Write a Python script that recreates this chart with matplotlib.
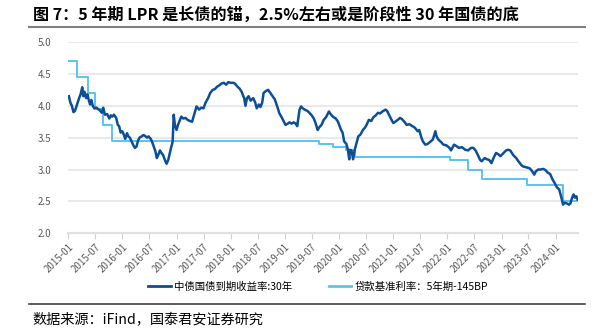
import matplotlib
matplotlib.use("Agg")
import matplotlib.pyplot as plt
import matplotlib.dates as mdates
from matplotlib.lines import Line2D
import pandas as pd

plt.rcParams['font.family'] = ['Noto Sans CJK SC', 'DejaVu Sans']

# 30Y CGB yield (approximate readings)
yield_dates = [
"2015-01-05","2015-01-15","2015-01-25","2015-02-05","2015-02-15","2015-03-01","2015-03-15","2015-03-25",
"2015-04-05","2015-04-12","2015-04-20","2015-05-01","2015-05-10","2015-05-20","2015-05-28","2015-06-05",
"2015-06-15","2015-06-25","2015-07-10","2015-07-20","2015-08-01","2015-08-15","2015-08-25","2015-09-05",
"2015-09-20","2015-10-05","2015-10-15","2015-10-25","2015-11-05","2015-11-20","2015-12-01","2015-12-10",
"2015-12-20","2015-12-31","2016-01-10","2016-01-20","2016-02-01","2016-02-10","2016-02-20","2016-03-05",
"2016-03-15","2016-03-25","2016-04-05","2016-04-15","2016-04-25","2016-05-10","2016-05-20","2016-06-01",
"2016-06-15","2016-06-25","2016-07-10","2016-07-20","2016-08-01","2016-08-10","2016-08-20","2016-08-30",
"2016-09-10","2016-09-20","2016-10-01","2016-10-15","2016-10-25","2016-11-05","2016-11-15","2016-11-25",
"2016-12-05","2016-12-12","2016-12-20","2016-12-31","2017-01-10","2017-01-20","2017-02-01","2017-02-15",
"2017-03-01","2017-03-15","2017-04-01","2017-04-15","2017-05-01","2017-05-15","2017-06-01","2017-06-15",
"2017-07-01","2017-07-15","2017-08-01","2017-08-15","2017-09-01","2017-09-15","2017-10-01","2017-10-15",
"2017-11-01","2017-11-15","2017-12-01","2017-12-15","2018-01-01","2018-01-20","2018-02-01","2018-02-15",
"2018-03-01","2018-03-15","2018-04-01","2018-04-10","2018-04-20","2018-05-01","2018-05-15","2018-06-01",
"2018-06-15","2018-06-25","2018-07-10","2018-07-20","2018-08-01","2018-08-10","2018-08-25","2018-09-10",
"2018-09-25","2018-10-10","2018-10-25","2018-11-10","2018-11-25","2018-12-10","2018-12-25","2019-01-05",
"2019-01-20","2019-02-01","2019-02-15","2019-03-01","2019-03-15","2019-03-25","2019-04-10","2019-04-20",
"2019-05-01","2019-05-15","2019-06-01","2019-06-15","2019-07-01","2019-07-15","2019-07-25","2019-08-10",
"2019-08-20","2019-09-05","2019-09-20","2019-10-05","2019-10-25","2019-11-05","2019-11-20","2019-12-10",
"2019-12-25","2020-01-15","2020-01-25","2020-02-05","2020-02-20","2020-03-01","2020-03-10","2020-03-15",
"2020-03-25","2020-04-05","2020-04-15","2020-04-25","2020-05-10","2020-05-25","2020-06-10","2020-06-25",
"2020-07-05","2020-07-20","2020-08-05","2020-08-20","2020-09-05","2020-09-20","2020-10-05","2020-10-20",
"2020-11-10","2020-11-20","2020-12-05","2020-12-20","2021-01-01","2021-01-15","2021-02-01","2021-02-15",
"2021-03-01","2021-03-20","2021-04-01","2021-04-20","2021-05-10","2021-05-25","2021-06-15","2021-06-25",
"2021-07-10","2021-07-20","2021-08-05","2021-08-20","2021-09-10","2021-09-25","2021-10-12","2021-10-20",
"2021-11-01","2021-11-20","2021-12-05","2021-12-25","2022-01-15","2022-01-25","2022-02-15","2022-03-01",
"2022-03-20","2022-04-10","2022-05-01","2022-05-20","2022-06-10","2022-06-25","2022-07-10","2022-07-25",
"2022-08-10","2022-08-20","2022-09-10","2022-09-25","2022-10-10","2022-10-25","2022-11-10","2022-11-25",
"2022-12-10","2022-12-25","2023-01-15","2023-02-01","2023-02-15","2023-03-01","2023-03-20","2023-04-10",
"2023-04-25","2023-05-15","2023-05-25","2023-06-10","2023-06-25","2023-07-10","2023-07-25","2023-08-10",
"2023-08-20","2023-09-05","2023-09-20","2023-10-10","2023-10-25","2023-11-10","2023-11-25","2023-12-10",
"2023-12-25","2024-01-10","2024-01-25","2024-02-10","2024-02-20","2024-03-01","2024-03-15","2024-04-01",
"2024-04-10","2024-04-20","2024-05-01","2024-05-10","2024-05-20","2024-05-28"]
yield_values = [
4.15,4.05,4.00,3.90,3.92,4.02,4.12,4.18,
4.29,4.15,4.22,4.12,4.18,4.08,4.02,4.09,
4.00,3.96,3.97,3.95,3.93,3.89,3.97,3.86,
3.87,3.80,3.85,3.83,3.86,3.81,3.70,3.68,
3.58,3.60,3.55,3.48,3.57,3.52,3.50,3.43,
3.38,3.34,3.36,3.45,3.50,3.52,3.54,3.53,
3.50,3.52,3.48,3.43,3.35,3.29,3.18,3.23,
3.30,3.26,3.23,3.14,3.09,3.15,3.25,3.35,
3.44,3.86,3.70,3.62,3.70,3.76,3.83,3.80,
3.81,3.78,3.76,3.75,3.88,3.99,3.94,3.97,
3.96,4.05,4.12,4.20,4.25,4.26,4.30,4.32,
4.35,4.36,4.33,4.37,4.36,4.36,4.34,4.30,
4.27,4.22,4.12,4.00,4.12,4.15,4.08,4.12,
4.05,3.96,4.02,3.98,4.05,4.20,4.23,4.25,
4.20,4.15,4.10,3.99,3.88,3.82,3.75,3.70,
3.72,3.74,3.72,3.74,3.72,3.68,3.94,3.99,
3.96,3.94,3.92,3.89,3.85,3.80,3.74,3.62,
3.66,3.70,3.78,3.82,3.91,3.87,3.83,3.80,
3.75,3.62,3.58,3.44,3.40,3.31,3.16,3.31,
3.30,3.16,3.30,3.39,3.52,3.55,3.62,3.66,
3.70,3.78,3.76,3.82,3.85,3.89,3.88,3.91,
3.94,3.92,3.85,3.78,3.73,3.75,3.78,3.81,
3.79,3.74,3.70,3.71,3.68,3.66,3.60,3.62,
3.50,3.44,3.39,3.40,3.44,3.47,3.60,3.52,
3.47,3.43,3.39,3.38,3.34,3.30,3.39,3.37,
3.34,3.35,3.31,3.30,3.34,3.34,3.30,3.23,
3.15,3.13,3.18,3.16,3.15,3.10,3.19,3.26,
3.24,3.21,3.26,3.30,3.31,3.30,3.23,3.18,
3.13,3.07,3.05,3.04,3.03,3.02,2.98,2.92,
2.97,3.00,3.00,3.01,2.99,2.95,2.93,2.85,
2.79,2.72,2.69,2.55,2.45,2.48,2.47,2.45,
2.47,2.55,2.61,2.56,2.58,2.53]

# 5Y loan benchmark / LPR minus 145bp (step series)
lpr_dates = ["2015-01-01","2015-03-01","2015-05-11","2015-06-28","2015-08-26","2015-10-24",
             "2019-08-20","2019-11-20","2020-02-20","2020-04-20","2022-01-20","2022-05-20",
             "2022-08-22","2023-06-20","2024-02-20","2024-05-28"]
lpr_values = [4.70,4.45,4.20,3.95,3.70,3.45,3.40,3.35,3.30,3.20,3.15,3.00,2.85,2.75,2.50,2.50]

tick_labels = ["2015-01","2015-07","2016-01","2016-07","2017-01","2017-07","2018-01","2018-07",
               "2019-01","2019-07","2020-01","2020-07","2021-01","2021-07","2022-01","2022-07",
               "2023-01","2023-07","2024-01"]
yticks = [2.0, 2.5, 3.0, 3.5, 4.0, 4.5, 5.0]

title = "图 7：5 年期 LPR 是长债的锚，2.5%左右或是阶段性 30 年国债的底"
name1 = "中债国债到期收益率:30年"
name2 = "贷款基准利率：5年期-145BP"
source = "数据来源：iFind，国泰君安证券研究"

dark = "#0c4f97"
light = "#5bc3f0"
W, H = 601, 333

fig = plt.figure(figsize=(W/100, H/100), dpi=100)
ax = fig.add_axes([68.3/W, 1-233.3/H, (578-68.3)/W, (233.3-42)/H])

yd = pd.to_datetime(yield_dates)
ld = pd.to_datetime(lpr_dates)
ax.step(ld, lpr_values, where='post', color=light, lw=1.4, zorder=2)
ax.plot(yd, yield_values, color=dark, lw=1.8, zorder=3)

ax.set_xlim(pd.Timestamp("2015-01-01"), pd.Timestamp("2024-05-31"))
ax.set_ylim(2.0, 5.0)
ax.set_yticks(yticks)
ax.set_yticklabels([f"{v:.1f}" for v in yticks])
ax.grid(axis='y', color='#e9e9e9', lw=1.5)
ax.set_axisbelow(True)
for s in ['top', 'right', 'left']:
    ax.spines[s].set_visible(False)
ax.spines['bottom'].set_color('#e0e0e0')
ax.spines['bottom'].set_linewidth(1.5)

ax.set_xticks(pd.to_datetime([t + "-01" for t in tick_labels]))
ax.set_xticklabels(tick_labels, rotation=45, ha='right', rotation_mode='anchor')
ax.tick_params(axis='x', colors='#595959', labelsize=7, length=4, color='#d0d0d0', pad=2)
ax.tick_params(axis='y', colors='#595959', labelsize=7, length=0, pad=12)

fig.text(33/W, 1-15/H, title, fontsize=11.6, fontweight='bold', va='center', ha='left', color='black')
fig.add_artist(Line2D([29/W, 585/W], [1-27/H, 1-27/H], color='#7f7f7f', lw=1.5))

handles = [Line2D([], [], color=dark, lw=2), Line2D([], [], color=light, lw=2)]
fig.legend(handles, [name1, name2], loc='center', bbox_to_anchor=(318/W, 1-287/H), ncol=2,
           frameon=False, fontsize=7.5, handlelength=2.2, handletextpad=0.3, columnspacing=3.5)

fig.add_artist(Line2D([29/W, 585/W], [1-304/H, 1-304/H], color='#404040', lw=1.2))
fig.text(32/W, 1-320/H, source, fontsize=10.2, va='center', ha='left', color='black')

fig.savefig("out.png", dpi=100)
